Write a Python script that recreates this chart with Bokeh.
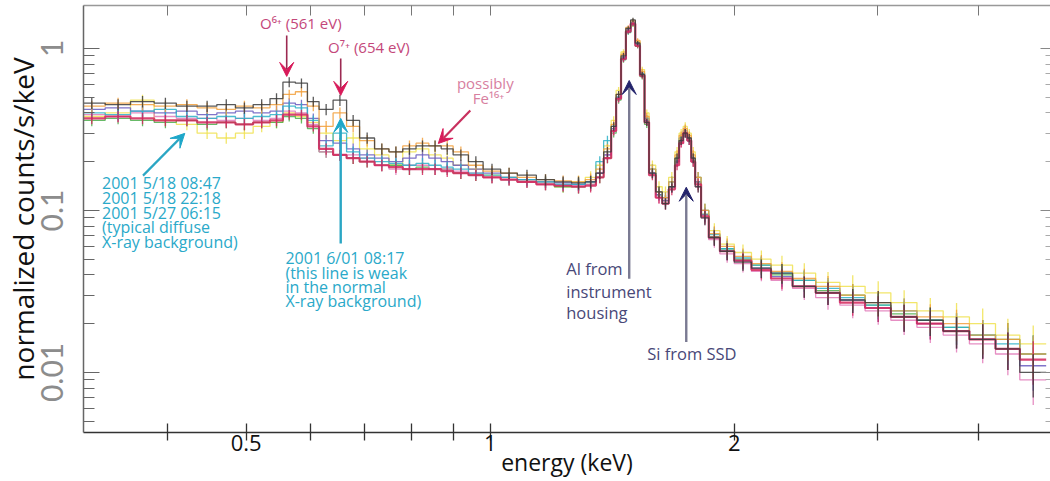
from bokeh.plotting import figure
from bokeh.models import (Range1d, FixedTicker, LogAxis, Arrow, VeeHead,
                          CustomJSTickFormatter)
from bokeh.core.properties import value
from bokeh.embed import file_html
from bokeh.resources import INLINE

# ---------------- data ----------------
bin_edges_kev = [0.31, 0.335, 0.36, 0.385, 0.41, 0.435, 0.46, 0.485, 0.51, 0.535,
                 0.555, 0.575, 0.595, 0.615, 0.64, 0.665, 0.69, 0.72, 0.75, 0.78,
                 0.81, 0.84, 0.87, 0.90, 0.94, 0.98, 1.03, 1.08, 1.14, 1.20,
                 1.26, 1.31, 1.35, 1.38, 1.41, 1.43, 1.45, 1.47, 1.49, 1.51,
                 1.53, 1.55, 1.57, 1.60, 1.63, 1.66, 1.69, 1.71, 1.73, 1.75,
                 1.77, 1.79, 1.82, 1.86, 1.92, 2.0, 2.1, 2.22, 2.36, 2.52,
                 2.70, 2.90, 3.12, 3.36, 3.62, 3.90, 4.20, 4.50, 4.85]

rel_err = [0.08, 0.08, 0.08, 0.08, 0.08, 0.08, 0.08, 0.08, 0.08, 0.08,
           0.07, 0.07, 0.07, 0.08, 0.08, 0.08, 0.08, 0.08, 0.08, 0.08,
           0.08, 0.08, 0.08, 0.08, 0.08, 0.08, 0.08, 0.08, 0.08, 0.08,
           0.09, 0.09, 0.08, 0.07, 0.06, 0.05, 0.04, 0.03, 0.03, 0.03,
           0.04, 0.05, 0.07, 0.08, 0.08, 0.08, 0.07, 0.06, 0.06, 0.06,
           0.07, 0.08, 0.10, 0.11, 0.12, 0.12, 0.13, 0.14, 0.15, 0.16,
           0.17, 0.18, 0.19, 0.20, 0.22, 0.24, 0.26, 0.30]

s_yellow = [0.38, 0.40, 0.48, 0.36, 0.34, 0.30, 0.28, 0.30, 0.33, 0.35,
            0.40, 0.38, 0.35, 0.30, 0.27, 0.28, 0.24, 0.22, 0.19, 0.23,
            0.24, 0.22, 0.21, 0.19, 0.18, 0.165, 0.16, 0.155, 0.15, 0.14,
            0.15, 0.16, 0.19, 0.25, 0.36, 0.55, 0.95, 1.28, 1.40, 1.10,
            0.74, 0.40, 0.19, 0.14, 0.13, 0.16, 0.23, 0.30, 0.33, 0.30,
            0.23, 0.16, 0.10, 0.075, 0.062, 0.055, 0.050, 0.046, 0.041, 0.036,
            0.034, 0.031, 0.027, 0.024, 0.022, 0.020, 0.017, 0.015]
s_green = [0.36, 0.37, 0.36, 0.35, 0.36, 0.34, 0.35, 0.34, 0.35, 0.35,
           0.38, 0.37, 0.32, 0.23, 0.22, 0.21, 0.20, 0.19, 0.19, 0.18,
           0.185, 0.18, 0.18, 0.17, 0.165, 0.16, 0.155, 0.15, 0.145, 0.14,
           0.14, 0.145, 0.16, 0.21, 0.30, 0.48, 0.85, 1.25, 1.40, 1.03,
           0.67, 0.34, 0.17, 0.125, 0.115, 0.14, 0.20, 0.27, 0.30, 0.27,
           0.20, 0.15, 0.095, 0.069, 0.058, 0.050, 0.046, 0.040, 0.037, 0.032,
           0.030, 0.026, 0.023, 0.021, 0.019, 0.017, 0.016, 0.013]
s_pink = [0.39, 0.38, 0.40, 0.38, 0.37, 0.37, 0.36, 0.37, 0.36, 0.37,
          0.41, 0.40, 0.34, 0.23, 0.22, 0.22, 0.21, 0.19, 0.18, 0.19,
          0.19, 0.18, 0.18, 0.175, 0.17, 0.16, 0.155, 0.15, 0.145, 0.143,
          0.142, 0.145, 0.17, 0.22, 0.31, 0.49, 0.87, 1.28, 1.43, 1.05,
          0.69, 0.36, 0.17, 0.12, 0.11, 0.14, 0.20, 0.26, 0.30, 0.27,
          0.20, 0.14, 0.09, 0.066, 0.054, 0.047, 0.042, 0.037, 0.033, 0.029,
          0.026, 0.024, 0.021, 0.019, 0.017, 0.015, 0.013, 0.009]
s_purple = [0.42, 0.43, 0.41, 0.40, 0.41, 0.39, 0.40, 0.41, 0.40, 0.41,
            0.46, 0.45, 0.37, 0.27, 0.26, 0.24, 0.22, 0.21, 0.20, 0.21,
            0.22, 0.21, 0.20, 0.19, 0.18, 0.17, 0.16, 0.155, 0.15, 0.148,
            0.145, 0.15, 0.17, 0.22, 0.32, 0.50, 0.88, 1.30, 1.45, 1.07,
            0.70, 0.36, 0.17, 0.125, 0.115, 0.14, 0.20, 0.27, 0.31, 0.28,
            0.21, 0.15, 0.094, 0.068, 0.056, 0.049, 0.044, 0.039, 0.034, 0.031,
            0.028, 0.025, 0.022, 0.020, 0.018, 0.016, 0.014, 0.011]
s_cyan = [0.40, 0.39, 0.41, 0.42, 0.38, 0.37, 0.38, 0.37, 0.38, 0.39,
          0.44, 0.43, 0.36, 0.25, 0.30, 0.23, 0.21, 0.20, 0.195, 0.19,
          0.195, 0.19, 0.185, 0.18, 0.17, 0.165, 0.16, 0.155, 0.15, 0.145,
          0.145, 0.15, 0.20, 0.27, 0.33, 0.50, 0.86, 1.26, 1.43, 1.06,
          0.70, 0.37, 0.18, 0.13, 0.12, 0.15, 0.21, 0.28, 0.30, 0.27,
          0.21, 0.16, 0.10, 0.071, 0.058, 0.051, 0.046, 0.041, 0.037, 0.033,
          0.029, 0.026, 0.024, 0.021, 0.019, 0.017, 0.015, 0.013]
s_orange = [0.44, 0.46, 0.45, 0.44, 0.45, 0.43, 0.42, 0.44, 0.43, 0.45,
            0.52, 0.54, 0.44, 0.33, 0.40, 0.33, 0.27, 0.24, 0.23, 0.25,
            0.26, 0.25, 0.25, 0.23, 0.19, 0.175, 0.17, 0.16, 0.155, 0.152,
            0.15, 0.155, 0.18, 0.24, 0.34, 0.52, 0.92, 1.35, 1.48, 1.12,
            0.72, 0.38, 0.18, 0.13, 0.12, 0.15, 0.22, 0.29, 0.32, 0.29,
            0.22, 0.16, 0.10, 0.072, 0.060, 0.052, 0.047, 0.042, 0.038, 0.034,
            0.030, 0.027, 0.024, 0.022, 0.020, 0.017, 0.016, 0.013]
s_crimson = [0.37, 0.38, 0.37, 0.36, 0.36, 0.35, 0.35, 0.34, 0.35, 0.36,
             0.39, 0.39, 0.33, 0.24, 0.22, 0.21, 0.20, 0.19, 0.185, 0.18,
             0.18, 0.18, 0.175, 0.17, 0.165, 0.16, 0.155, 0.15, 0.145, 0.142,
             0.14, 0.142, 0.16, 0.21, 0.31, 0.49, 0.86, 1.27, 1.42, 1.04,
             0.68, 0.35, 0.165, 0.12, 0.11, 0.135, 0.19, 0.26, 0.30, 0.27,
             0.20, 0.145, 0.092, 0.068, 0.056, 0.049, 0.043, 0.038, 0.034, 0.031,
             0.027, 0.025, 0.022, 0.020, 0.018, 0.016, 0.014, 0.012]
s_black = [0.46, 0.45, 0.47, 0.46, 0.44, 0.44, 0.45, 0.43, 0.45, 0.49,
           0.62, 0.61, 0.47, 0.42, 0.48, 0.36, 0.28, 0.24, 0.23, 0.24,
           0.25, 0.25, 0.24, 0.22, 0.20, 0.18, 0.17, 0.165, 0.155, 0.15,
           0.148, 0.15, 0.17, 0.23, 0.33, 0.52, 0.90, 1.33, 1.50, 1.08,
           0.69, 0.35, 0.17, 0.13, 0.11, 0.14, 0.21, 0.27, 0.30, 0.28,
           0.21, 0.14, 0.09, 0.068, 0.056, 0.048, 0.044, 0.041, 0.034, 0.031,
           0.028, 0.027, 0.022, 0.021, 0.018, 0.016, 0.014, 0.010]

series_values = [s_yellow, s_green, s_pink, s_purple, s_cyan, s_orange, s_crimson, s_black]
series_colors = ["#f0e250", "#4cae4c", "#e27ab8", "#6a5cc0", "#2db2c8", "#f2a03c", "#d4245a", "#3c3c3c"]
series_widths = [1.3, 1.3, 1.3, 1.3, 1.3, 1.3, 2.2, 1.3]

x_major_ticks = [0.5, 1, 2]
x_minor_ticks = [0.4, 0.6, 0.7, 0.8, 0.9, 3, 4]
y_major_ticks = [0.01, 0.1, 1]
y_minor_ticks = [0.005, 0.006, 0.007, 0.008, 0.009,
                 0.02, 0.03, 0.04, 0.05, 0.06, 0.07, 0.08, 0.09,
                 0.2, 0.3, 0.4, 0.5, 0.6, 0.7, 0.8, 0.9]

# annotations (energy keV, normalized counts/s/keV)
o_text = ["O⁶⁺ (561 eV)", "O⁷⁺ (654 eV)"]
o_text_x = [0.520, 0.631]
o_text_y = [1.427, 1.014]
fe_text = ["possibly", "Fe¹⁶⁺"]
fe_text_x = [0.986, 0.995]
fe_text_y = [0.608, 0.491]
cyan1_text = ["2001 5/18 08:47", "2001 5/18 22:18", "2001 5/27 06:15",
              "(typical diffuse", "X-ray background)"]
cyan1_x = 0.332
cyan1_y = [0.147, 0.119, 0.0971, 0.0786, 0.0634]
cyan2_text = ["2001 6/01 08:17", "(this line is weak", "in the normal", "X-ray background)"]
cyan2_x = 0.559
cyan2_y = [0.0512, 0.0413, 0.0335, 0.0275]
al_text = ["Al from", "instrument", "housing"]
al_x = 1.241
al_y = [0.0439, 0.0316, 0.0233]
si_text = ["Si from SSD"]
si_x = 1.562
si_y = [0.0131]

arrow_x0 = [0.561, 0.654, 0.945, 0.373, 0.654, 1.484, 1.745]
arrow_y0 = [1.203, 0.867, 0.414, 0.164, 0.0625, 0.0379, 0.0154]
arrow_x1 = [0.561, 0.654, 0.863, 0.420, 0.654, 1.484, 1.745]
arrow_y1 = [0.672, 0.513, 0.259, 0.299, 0.370, 0.634, 0.139]
arrow_shaft = ["#9c2a52", "#9c2a52", "#c8305e", "#2aa6c4", "#2aa6c4", "#7a7a92", "#7a7a92"]
arrow_head = ["#d81b5a", "#d81b5a", "#d81b5a", "#1ea7c9", "#1ea7c9", "#23236b", "#23236b"]
arrow_width = [1.6, 1.6, 2.2, 2.2, 2.4, 2.4, 2.4]

# ---------------- figure ----------------
p = figure(width=1050, height=481, x_axis_type="log", y_axis_type="log",
           x_range=Range1d(0.315, 4.91), y_range=Range1d(0.00426, 1.84),
           output_backend="svg", toolbar_location=None,
           min_border_left=83, min_border_right=0, min_border_top=5, min_border_bottom=49)
p.grid.visible = False
p.outline_line_color = None
p.background_fill_color = "white"
p.border_fill_color = "white"

fmt = CustomJSTickFormatter(code="return tick.toString();")
blank = CustomJSTickFormatter(code="return '';")

xa = p.xaxis[0]
xa.ticker = FixedTicker(ticks=x_major_ticks, minor_ticks=x_minor_ticks)
xa.formatter = fmt
xa.axis_line_color = "#333333"
xa.axis_line_width = 1.6
xa.major_tick_line_color = "#333333"
xa.minor_tick_line_color = "#333333"
xa.major_tick_line_width = 1.3
xa.minor_tick_line_width = 1.3
xa.major_tick_in = 9
xa.major_tick_out = 8
xa.minor_tick_in = 9
xa.minor_tick_out = 8
xa.major_label_text_font = "Open Sans"
xa.major_label_text_font_size = "22px"
xa.major_label_text_color = "#111111"
xa.major_label_standoff = -6
xa.axis_label = "energy (keV)"
xa.axis_label_text_font = "Open Sans"
xa.axis_label_text_font_size = "23px"
xa.axis_label_text_font_style = "normal"
xa.axis_label_text_color = "#111111"
xa.axis_label_standoff = -8

ya = p.yaxis[0]
ya.ticker = FixedTicker(ticks=y_major_ticks, minor_ticks=y_minor_ticks)
ya.formatter = fmt
ya.axis_line_color = "#666666"
ya.axis_line_width = 1.5
ya.major_tick_line_color = "#666666"
ya.minor_tick_line_color = "#666666"
ya.major_tick_in = 16
ya.major_tick_out = 0
ya.minor_tick_in = 11
ya.minor_tick_out = 0
ya.major_label_orientation = "vertical"
ya.major_label_text_font = "Lato"
ya.major_label_text_font_size = "30px"
ya.major_label_text_color = "#8c8c8c"
ya.major_label_standoff = 20
ya.axis_label = "normalized counts/s/keV"
ya.axis_label_text_font = "Open Sans"
ya.axis_label_text_font_size = "28px"
ya.axis_label_text_font_style = "normal"
ya.axis_label_text_color = "#111111"
ya.axis_label_standoff = -3

top = LogAxis(ticker=FixedTicker(ticks=x_major_ticks, minor_ticks=x_minor_ticks),
              formatter=blank, major_label_text_font_size="0px", major_label_standoff=0,
              axis_line_color="#999999", axis_line_width=1.5,
              major_tick_line_color="#777777", minor_tick_line_color="#777777",
              major_tick_in=10, major_tick_out=0, minor_tick_in=10, minor_tick_out=0)
p.add_layout(top, "above")

right = LogAxis(ticker=FixedTicker(ticks=y_major_ticks, minor_ticks=y_minor_ticks),
                formatter=blank, major_label_text_font_size="0px", major_label_standoff=0,
                axis_line_color=None,
                major_tick_line_color="#888888", minor_tick_line_color="#aaaaaa",
                major_tick_in=10, major_tick_out=0, minor_tick_in=5, minor_tick_out=0)
p.add_layout(right, "right")

# ---------------- spectra ----------------
lo = bin_edges_kev[:-1]
hi = bin_edges_kev[1:]
centers = [(a + b) / 2 for a, b in zip(lo, hi)]

for vals, col, lw in zip(series_values, series_colors, series_widths):
    xs, ys = [], []
    for a, b, v in zip(lo, hi, vals):
        xs += [a, b]
        ys += [v, v]
    p.line(xs, ys, line_color=col, line_width=lw, line_alpha=0.85)
    p.segment(x0=centers, y0=[v * (1 - e) for v, e in zip(vals, rel_err)],
              x1=centers, y1=[v * (1 + e) for v, e in zip(vals, rel_err)],
              line_color=col, line_width=1.3, line_alpha=0.85)

# ---------------- annotations ----------------
for x0, y0, x1, y1, sc, hc, w in zip(arrow_x0, arrow_y0, arrow_x1, arrow_y1,
                                     arrow_shaft, arrow_head, arrow_width):
    p.add_layout(Arrow(x_start=x0, y_start=y0, x_end=x1, y_end=y1,
                       line_color=sc, line_width=w,
                       end=VeeHead(size=14, fill_color=hc, line_color=hc)))

font = value("Open Sans")
p.text(x=o_text_x, y=o_text_y, text=o_text, text_font=font, text_font_size="15px",
       text_color="#c4477a", text_align="left", text_baseline="middle")
p.text(x=fe_text_x, y=fe_text_y, text=fe_text, text_font=font, text_font_size="15px",
       text_color="#d7809f", text_align="center", text_baseline="middle")
p.text(x=[cyan1_x] * len(cyan1_text), y=cyan1_y, text=cyan1_text, text_font=font,
       text_font_size="16px", text_color="#2aa9c9", text_align="left", text_baseline="middle")
p.text(x=[cyan2_x] * len(cyan2_text), y=cyan2_y, text=cyan2_text, text_font=font,
       text_font_size="16px", text_color="#2aa9c9", text_align="left", text_baseline="middle")
p.text(x=[al_x] * len(al_text), y=al_y, text=al_text, text_font=font,
       text_font_size="16.5px", text_color="#484878", text_align="left", text_baseline="middle")
p.text(x=[si_x] * len(si_text), y=si_y, text=si_text, text_font=font,
       text_font_size="16.5px", text_color="#484878", text_align="left", text_baseline="middle")

open("out.html", "w").write(file_html(p, INLINE))
